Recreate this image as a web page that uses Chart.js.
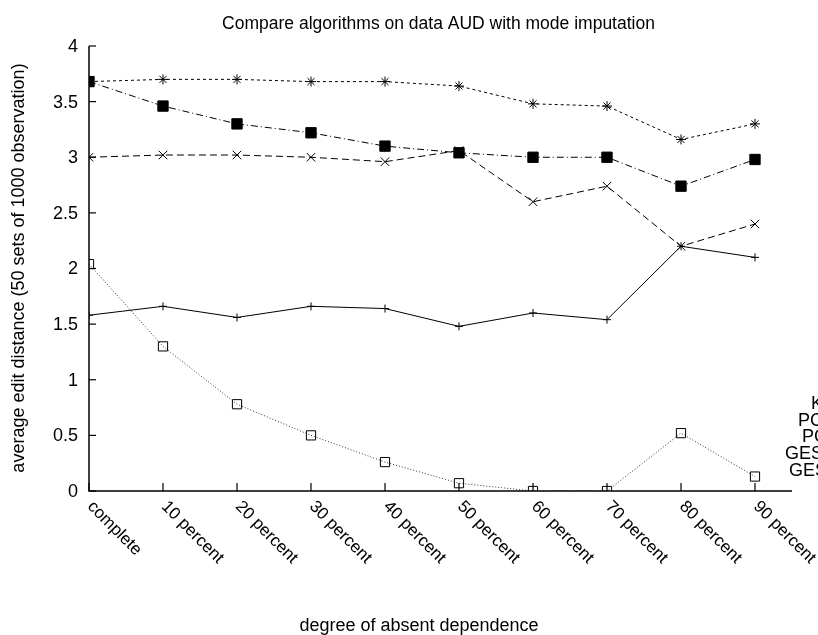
<!DOCTYPE html>
<html>
<head>
<meta charset="utf-8">
<script src="https://cdn.jsdelivr.net/npm/chart.js@4"></script>
<style>
  html, body { margin: 0; padding: 0; background: #fff; }
  #wrap { width: 818px; height: 635px; }
</style>
</head>
<body>
<div id="wrap"><canvas id="myChart"></canvas></div>
<script>
var categories = ['complete', '10 percent', '20 percent', '30 percent', '40 percent',
                  '50 percent', '60 percent', '70 percent', '80 percent', '90 percent'];
var yTicks = [0, 0.5, 1, 1.5, 2, 2.5, 3, 3.5, 4];
var seriesNames = ['K2', 'PC1', 'PC-', 'GES1', 'GES-'];

var k2 = [1.58, 1.66, 1.56, 1.66, 1.64, 1.48, 1.60, 1.54, 2.20, 2.10];
var pcA = [3.00, 3.02, 3.02, 3.00, 2.96, 3.06, 2.60, 2.74, 2.20, 2.40];
var pcB = [3.68, 3.70, 3.70, 3.68, 3.68, 3.64, 3.48, 3.46, 3.16, 3.30];
var gesA = [2.04, 1.30, 0.78, 0.50, 0.26, 0.07, 0.00, 0.00, 0.52, 0.13];
var gesB = [3.68, 3.46, 3.30, 3.22, 3.10, 3.04, 3.00, 3.00, 2.74, 2.98];

var titleText = 'Compare algorithms on data AUD with mode imputation';
var xTitle = 'degree of absent dependence';
var yTitle = 'average edit distance (50 sets of 1000 observation)';

function pts(arr) {
    return arr.map(function (v, i) { return { x: i, y: v }; });
}

var FONT = '"Liberation Sans", Arial, Helvetica, sans-serif';

// axes, ticks, labels and the cut-off key, drawn against the chart scales
const gnuAxes = {
    id: 'gnuAxes',
    afterDraw(chart) {
        const ctx = chart.ctx;
        const xs = chart.scales.x, ys = chart.scales.y;
        const a = chart.chartArea;
        const x0 = xs.getPixelForValue(0), yb = ys.getPixelForValue(0);
        ctx.save();
        ctx.strokeStyle = '#000';
        ctx.fillStyle = '#000';
        ctx.lineWidth = 1.5;
        ctx.beginPath();
        ctx.moveTo(x0, ys.getPixelForValue(4));
        ctx.lineTo(x0, yb);
        ctx.lineTo(a.right, yb);
        ctx.stroke();

        ctx.lineWidth = 1.2;
        ctx.font = '18px ' + FONT;
        ctx.textAlign = 'right';
        ctx.textBaseline = 'middle';
        yTicks.forEach(function (t) {
            const py = ys.getPixelForValue(t);
            ctx.beginPath();
            ctx.moveTo(x0, py);
            ctx.lineTo(x0 + 7, py);
            ctx.stroke();
            ctx.fillText(String(t), x0 - 11, py + 1);
        });

        ctx.font = '17px ' + FONT;
        categories.forEach(function (c, i) {
            const px = xs.getPixelForValue(i);
            ctx.beginPath();
            ctx.moveTo(px, yb);
            ctx.lineTo(px, yb - 8);
            ctx.stroke();
            ctx.save();
            ctx.translate(px + 7, yb + 7);
            ctx.rotate(Math.PI / 4);
            ctx.textAlign = 'left';
            ctx.textBaseline = 'top';
            ctx.fillText(c, 0, 0);
            ctx.restore();
        });

        ctx.textAlign = 'center';
        ctx.textBaseline = 'middle';
        ctx.font = '17.5px ' + FONT;
        ctx.fillText(titleText, (a.left + a.right) / 2 - 2, 24);
        ctx.font = '18px ' + FONT;
        ctx.fillText(xTitle, 419, 626);
        ctx.save();
        ctx.translate(19, 268);
        ctx.rotate(-Math.PI / 2);
        ctx.fillText(yTitle, 0, 0);
        ctx.restore();

        // key, right aligned past the canvas edge as in the original
        ctx.textAlign = 'right';
        seriesNames.forEach(function (n, i) {
            ctx.fillText(n, a.right + 41, 404 + i * 16.7);
        });
        ctx.restore();
    }
};

const ctx = document.getElementById('myChart');
new Chart(ctx, {
    type: 'line',
    data: {
        datasets: [{
            label: seriesNames[0],
            data: pts(k2),
            borderColor: '#000',
            borderWidth: 1,
            pointStyle: 'cross',
            pointRadius: 4,
            pointBorderColor: '#000',
            pointBorderWidth: 1
        }, {
            label: seriesNames[1],
            data: pts(pcA),
            borderColor: '#000',
            borderWidth: 1,
            borderDash: [7, 4],
            pointStyle: 'crossRot',
            pointRadius: 6,
            pointBorderColor: '#000',
            pointBorderWidth: 1
        }, {
            label: seriesNames[2],
            data: pts(pcB),
            borderColor: '#000',
            borderWidth: 1,
            borderDash: [3, 3],
            pointStyle: 'star',
            pointRadius: 5,
            pointBorderColor: '#000',
            pointBorderWidth: 1
        }, {
            label: seriesNames[3],
            data: pts(gesA),
            borderColor: '#333',
            borderWidth: 1,
            borderDash: [1, 2],
            pointStyle: 'rect',
            pointRadius: 6.5,
            pointBackgroundColor: 'rgba(255,255,255,0)',
            pointBorderColor: '#000',
            pointBorderWidth: 1
        }, {
            label: seriesNames[4],
            data: pts(gesB),
            borderColor: '#000',
            borderWidth: 1,
            borderDash: [7, 3, 1, 3],
            pointStyle: 'rect',
            pointRadius: 7.3,
            pointBackgroundColor: '#000',
            pointBorderColor: '#000',
            pointBorderWidth: 1
        }]
    },
    options: {
        responsive: true,
        maintainAspectRatio: false,
        animation: false,
        layout: { padding: { left: 89, right: 26, top: 46, bottom: 144 } },
        plugins: {
            legend: { display: false },
            tooltip: { enabled: false },
            title: { display: false }
        },
        elements: { line: { tension: 0 } },
        scales: {
            x: { type: 'linear', min: 0, max: 9.5, display: false },
            y: { type: 'linear', min: 0, max: 4, display: false }
        }
    },
    plugins: [gnuAxes]
});
</script>
</body>
</html>
